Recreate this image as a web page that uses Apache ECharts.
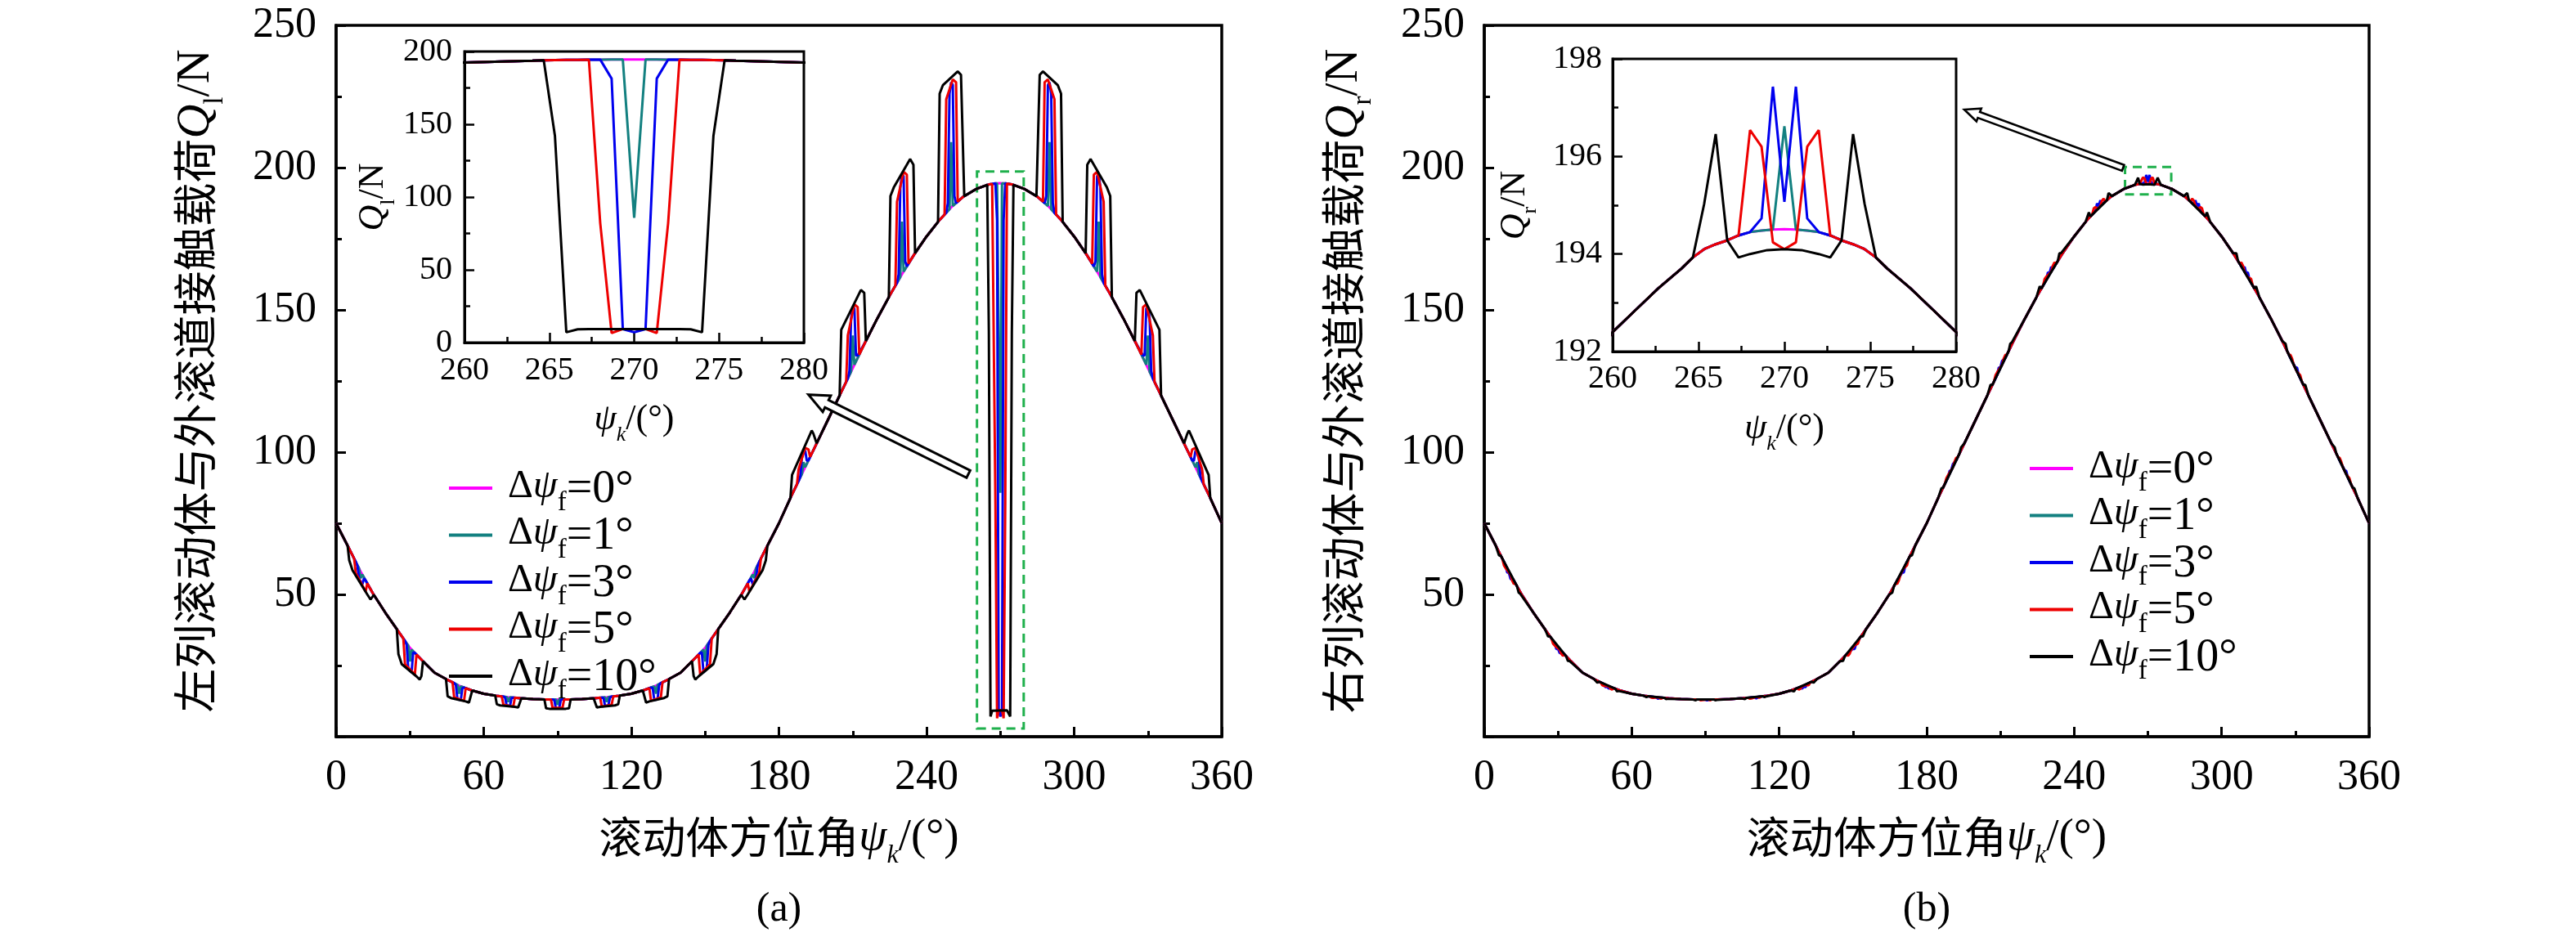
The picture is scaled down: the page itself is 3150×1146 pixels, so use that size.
<!DOCTYPE html>
<html><head><meta charset="utf-8">
<script src="https://cdn.jsdelivr.net/npm/echarts@6/dist/echarts.min.js"></script>
<style>html,body{margin:0;padding:0;background:#fff}#c{width:3150px;height:1146px}</style>
</head><body><div id="c"></div>
<script>
// ---------------- DATA ----------------
const seriesNames = ['Δψf=0°', 'Δψf=1°', 'Δψf=3°', 'Δψf=5°', 'Δψf=10°'];
const seriesColors = ['#ff00ff', '#138080', '#0000ee', '#ee0000', '#000000'];

// base load curve (Δψf = 0°)
const psiBase = [0,5,10,15,20,25,30,35,40,45,50,55,60,65,70,75,80,85,90,95,100,105,110,115,120,125,130,135,140,145,150,155,160,165,170,175,180,185,190,195,200,205,210,215,220,225,230,235,240,245,250,255,260,261.33,262.67,264,264.67,265.33,266,266.67,267.33,268,268.67,269.33,270,270.67,271.33,272,272.67,273.33,274,274.67,275.33,276,277.33,278.67,280,285,290,295,300,305,310,315,320,325,330,335,340,345,350,355,360];
const qBase = [75.0,66.6,58.0,50.3,43.6,37.4,31.2,26.8,22.5,20.1,17.9,16.3,15.1,14.4,13.9,13.5,13.2,13.1,13.1,13.1,13.2,13.5,13.9,14.4,15.1,16.3,17.9,20.1,22.5,26.8,31.2,37.4,43.6,50.3,58.0,66.6,75.0,84.5,93.5,102.5,111.5,120.5,129.5,138.5,147.0,155.0,162.5,169.5,175.8,181.3,186.0,189.8,192.4,192.85,193.3,193.7,193.93,194.1,194.2,194.28,194.38,194.45,194.48,194.5,194.51,194.5,194.48,194.45,194.38,194.28,194.2,194.1,193.93,193.7,193.3,192.85,192.4,189.8,186.0,181.3,175.8,169.5,162.5,155.0,147.0,138.5,129.5,120.5,111.5,102.5,93.5,84.5,75.0];

// ---- left row (a): deviations around each rolling element, [psi, Q] vertices ----
const leftTeal = [
  [[9.33,59.15],[10,55.7],[10.67,56.97]],
  [[29.33,32.03],[30,26.4],[30.67,30.61]],
  [[49.33,18.19],[50,15.1],[50.67,17.69]],
  [[69.33,13.97],[70,12.2],[70.67,13.85]],
  [[89.33,13.1],[90,11.2],[90.67,13.1]],
  [[109.33,13.85],[110,12.2],[110.67,13.97]],
  [[129.33,17.69],[130,15.1],[130.67,18.19]],
  [[149.33,30.61],[150,26.4],[150.67,32.03]],
  [[169.33,56.97],[170,55.7],[170.67,59.15]],
  [[189.33,92.3],[190,96.5],[190.67,94.7]],
  [[209.33,128.3],[210,141],[210.67,130.7]],
  [[229.33,161.5],[230,181],[230.67,163.44]],
  [[249.33,185.37],[250,209],[250.67,186.51]],
  [[269.33,194.5],[270,85.7],[270.67,194.5]],
  [[289.33,186.51],[290,209],[290.67,185.37]],
  [[309.33,163.44],[310,181],[310.67,161.5]],
  [[329.33,130.7],[330,141],[330.67,128.3]],
  [[349.33,94.7],[350,96.5],[350.67,92.3]]
];
const leftBlue = [
  [[8,61.44],[8.67,60.0],[9.33,55.5],[10,54.5],[10.67,53.6],[11.33,55.6],[12,54.92]],
  [[28,33.68],[28.67,32.3],[29.33,24],[30,23.2],[30.67,22.6],[31.33,29.6],[32,29.44]],
  [[48,18.84],[48.67,18.2],[49.33,13.2],[50,13.0],[50.67,12.9],[51.33,17.1],[52,17.26]],
  [[68,14.1],[68.67,13.8],[69.33,11.0],[70,10.9],[70.67,10.8],[71.33,13.6],[72,13.74]],
  [[88,13.1],[88.67,12.9],[89.33,10.0],[90,9.9],[90.67,10.0],[91.33,12.9],[92,13.1]],
  [[108,13.74],[108.67,13.6],[109.33,10.8],[110,10.9],[110.67,11.0],[111.33,13.8],[112,14.1]],
  [[128,17.26],[128.67,17.1],[129.33,12.9],[130,13.0],[130.67,13.2],[131.33,18.2],[132,18.84]],
  [[148,29.44],[148.67,29.6],[149.33,22.6],[150,23.2],[150.67,24],[151.33,32.3],[152,33.68]],
  [[168,54.92],[168.67,55.6],[169.33,53.6],[170,54.5],[170.67,55.5],[171.33,60.0],[172,61.44]],
  [[188,89.9],[188.67,91.5],[189.33,98],[190,100.5],[190.67,100.5],[191.33,97],[192,97.1]],
  [[208,125.9],[208.67,128.5],[209.33,147],[210,151],[210.67,150.5],[211.33,134],[212,134.0]],
  [[228,159.5],[228.67,162.5],[229.33,193],[230,197.5],[230.67,197],[231.33,167],[232,165.3]],
  [[248,184.1],[248.67,187.5],[249.33,226],[250,230],[250.67,229],[251.33,190],[252,187.5]],
  [[268,194.45],[268.67,181.4],[269.33,9.3],[270,7.1],[270.67,9.3],[271.33,181.4],[272,194.45]],
  [[288,187.5],[288.67,190],[289.33,229],[290,230],[290.67,226],[291.33,187.5],[292,184.1]],
  [[308,165.3],[308.67,167],[309.33,197],[310,197.5],[310.67,193],[311.33,162.5],[312,159.5]],
  [[328,134.0],[328.67,134],[329.33,150.5],[330,151],[330.67,147],[331.33,128.5],[332,125.9]],
  [[348,97.1],[348.67,97],[349.33,100.5],[350,100.5],[350.67,98],[351.33,91.5],[352,89.9]]
];
const leftRed = [
  [[7.33,62.6],[8,57.5],[12,51],[12.67,53.9]],
  [[27.33,34.51],[28,25.5],[32,21.8],[32.67,28.85]],
  [[47.33,19.12],[48,13.8],[52,12.6],[52.67,17.05]],
  [[67.33,14.17],[68,11.2],[72,10.6],[72.67,13.69]],
  [[87.33,13.1],[88,10.1],[92,10.1],[92.67,13.1]],
  [[107.33,13.69],[108,10.6],[112,11.2],[112.67,14.17]],
  [[127.33,17.05],[128,12.6],[132,13.8],[132.67,19.12]],
  [[147.33,28.85],[148,21.8],[152,25.5],[152.67,34.51]],
  [[167.33,53.9],[168,51],[172,57.5],[172.67,62.6]],
  [[187.33,88.7],[188,94],[190.67,101.5],[192,101],[192.67,98.3]],
  [[207.33,124.7],[208,141],[210.67,152],[212,151],[212.67,134.3]],
  [[227.33,158.5],[228,188],[230.67,198.5],[232,197.5],[232.67,166.24]],
  [[247.33,183.5],[248,224],[250.67,231],[252,230],[252.67,188.03]],
  [[267.33,194.38],[268,82],[268.67,6.5],[269.33,9.3],[270.67,9.3],[271.33,6.5],[272,82],[272.67,194.38]],
  [[287.33,188.03],[288,230],[289.33,231],[292,224],[292.67,183.5]],
  [[307.33,166.24],[308,197.5],[309.33,198.5],[312,188],[312.67,158.5]],
  [[327.33,134.3],[328,151],[329.33,152],[332,141],[332.67,124.7]],
  [[347.33,98.3],[348,101],[349.33,101.5],[352,94],[352.67,88.7]]
];
const leftBlack = [
  [[4.67,67.15],[5.33,62],[6.67,58.5],[12.67,50],[14,48.2],[15.33,49.86]],
  [[24.67,37.8],[25.33,29],[26.67,25.5],[32.67,21.2],[34,20.1],[34.67,21.3],[35.33,26.5]],
  [[44.67,20.26],[45.33,14.2],[46.67,13.6],[52.67,12.4],[54,12],[55.33,16.22]],
  [[64.67,14.45],[65.33,11.4],[66.67,11],[72.67,10.5],[74,10.3],[75.33,13.48]],
  [[84.67,13.1],[85.33,10.0],[86.67,9.8],[93.33,9.8],[94.67,10.0],[95.33,13.1]],
  [[104.67,13.48],[106,10.3],[107.33,10.5],[113.33,11],[114.67,11.4],[115.33,14.45]],
  [[124.67,16.22],[126,12],[127.33,12.4],[133.33,13.6],[134.67,14.2],[135.33,20.26]],
  [[144.67,26.5],[145.33,21.3],[146,20.1],[147.33,21.2],[153.33,25.5],[154.67,29],[155.33,37.8]],
  [[164.67,49.86],[166,48.2],[167.33,50],[173.33,58.5],[174.67,62],[175.33,67.15]],
  [[184.67,83.87],[185.33,92],[193.33,107.6],[194,106.5],[195.33,103.1]],
  [[204.67,119.9],[205.33,143],[213.33,157],[214.67,156],[215.33,139.06]],
  [[224.67,154.47],[225.33,190],[226.67,193],[233.33,203],[234.67,201],[235.33,169.92]],
  [[244.67,180.94],[245.33,226],[246.67,229],[252.67,233.8],[254,232.6],[255.33,189.97]],
  [[264.67,193.93],[265.33,142],[266,7.1],[266.67,9.1],[267.33,9.3],[272.67,9.3],[273.33,9.1],[274,7.1],[274.67,142],[275.33,193.93]],
  [[284.67,189.97],[286,232.6],[287.33,233.8],[293.33,229],[294.67,226],[295.33,180.94]],
  [[304.67,169.92],[305.33,201],[306.67,203],[313.33,193],[314.67,190],[315.33,154.47]],
  [[324.67,139.06],[325.33,156],[326.67,157],[334.67,143],[335.33,119.9]],
  [[344.67,103.1],[346,106.5],[346.67,107.6],[354.67,92],[355.33,83.87]]
];

// ---- right row (b): element at 270°, absolute [psi, Q] ----
const rightTeal270 = [[269.33,194.5],[270,196.62],[270.67,194.5]];
const rightBlue270 = [[268,194.45],[268.67,194.73],[269.33,197.43],[270,195.07],[270.67,197.43],[271.33,194.73],[272,194.45]];
const rightRed270 = [[267.33,194.38],[268,196.54],[268.67,196.2],[269.33,194.24],[270,194.1],[270.67,194.24],[271.33,196.2],[272,196.54],[272.67,194.38]];
const rightBlack270 = [[264.67,193.93],[265.33,195.03],[266,196.46],[266.67,194.28],[267.33,193.93],[268,194.0],[269,194.08],[270,194.1],[271,194.08],[272,194.0],[272.67,193.93],[273.33,194.28],[274,196.46],[274.67,195.03],[275.33,193.93]];

// ---- right row (b): small deviations at the other elements (offset from the base curve) ----
const rightBlackDpsi = [-5.33,-4.67,-4,-3.33,3.33,4,4.67,5.33];
const rightBlackDq = {
  10:[0,-0.6,-1.2,0,0,-1.2,-0.6,0], 30:[0,-0.5,-1.0,0,0,-1.0,-0.5,0], 50:[0,-0.35,-0.7,0,0,-0.7,-0.35,0],
  70:[0,-0.2,-0.4,0,0,-0.4,-0.2,0], 90:[0,-0.15,-0.3,0,0,-0.3,-0.15,0], 110:[0,-0.2,-0.4,0,0,-0.4,-0.2,0],
  130:[0,-0.35,-0.7,0,0,-0.7,-0.35,0], 150:[0,-0.5,-1.0,0,0,-1.0,-0.5,0], 170:[0,-0.6,-1.2,0,0,-1.2,-0.6,0],
  190:[0,0.5,1.0,0,0,1.0,0.5,0], 210:[0,0.7,1.4,0,0,1.4,0.7,0], 230:[0,0.9,1.8,0,0,1.8,0.9,0],
  250:[0,1.0,2.0,0,0,2.0,1.0,0], 290:[0,1.0,2.0,0,0,2.0,1.0,0], 310:[0,0.9,1.8,0,0,1.8,0.9,0],
  330:[0,0.7,1.4,0,0,1.4,0.7,0], 350:[0,0.5,1.0,0,0,1.0,0.5,0]
};
const rightRedDpsi = [-2.67,-2,-1.33,-0.67,0.67,1.33,2,2.67];
const rightRedDq = {
  10:[0,-1.2,-1.0,0,0,-1.0,-1.2,0], 30:[0,-1.0,-0.85,0,0,-0.85,-1.0,0], 50:[0,-0.7,-0.6,0,0,-0.6,-0.7,0],
  70:[0,-0.4,-0.35,0,0,-0.35,-0.4,0], 90:[0,-0.3,-0.25,0,0,-0.25,-0.3,0], 110:[0,-0.4,-0.35,0,0,-0.35,-0.4,0],
  130:[0,-0.7,-0.6,0,0,-0.6,-0.7,0], 150:[0,-1.0,-0.85,0,0,-0.85,-1.0,0], 170:[0,-1.2,-1.0,0,0,-1.0,-1.2,0],
  190:[0,0.9,0.75,0,0,0.75,0.9,0], 210:[0,1.1,0.95,0,0,0.95,1.1,0], 230:[0,1.4,1.2,0,0,1.2,1.4,0],
  250:[0,1.6,1.4,0,0,1.4,1.6,0], 290:[0,1.6,1.4,0,0,1.4,1.6,0], 310:[0,1.4,1.2,0,0,1.2,1.4,0],
  330:[0,1.1,0.95,0,0,0.95,1.1,0], 350:[0,0.9,0.75,0,0,0.75,0.9,0]
};
const rightBlueDpsi = [-2,-1.33,-0.67,0,0.67,1.33,2];
const rightBlueDq = {
  10:[0,-0.1,-1.45,-0.35,-1.45,-0.1,0], 30:[0,-0.1,-1.2,-0.3,-1.2,-0.1,0], 50:[0,-0.05,-0.85,-0.2,-0.85,-0.05,0],
  70:[0,0,-0.5,-0.1,-0.5,0,0], 90:[0,0,-0.35,-0.1,-0.35,0,0], 110:[0,0,-0.5,-0.1,-0.5,0,0],
  130:[0,-0.05,-0.85,-0.2,-0.85,-0.05,0], 150:[0,-0.1,-1.2,-0.3,-1.2,-0.1,0], 170:[0,-0.1,-1.45,-0.35,-1.45,-0.1,0],
  190:[0,0.1,1.1,0.25,1.1,0.1,0], 210:[0,0.1,1.4,0.35,1.4,0.1,0], 230:[0,0.15,1.7,0.4,1.7,0.15,0],
  250:[0,0.15,2.0,0.5,2.0,0.15,0], 290:[0,0.15,2.0,0.5,2.0,0.15,0], 310:[0,0.15,1.7,0.4,1.7,0.15,0],
  330:[0,0.1,1.4,0.35,1.4,0.1,0], 350:[0,0.1,1.1,0.25,1.1,0.1,0]
};

// axis ticks
const mainXTicks = {min: 0, max: 360, interval: 60};
const mainYTicks = {min: 0, max: 250, interval: 50};
const insetXTicks = {min: 260, max: 280, interval: 5};
const insetLYTicks = {min: 0, max: 200, interval: 50};
const insetRYTicks = {min: 192, max: 198, interval: 2};

// ---------------- BUILD ----------------
function baseAt(x) {
  for (let i = 0; i < psiBase.length - 1; i++) {
    if (x >= psiBase[i] && x <= psiBase[i + 1]) {
      const t = (x - psiBase[i]) / (psiBase[i + 1] - psiBase[i]);
      return qBase[i] + t * (qBase[i + 1] - qBase[i]);
    }
  }
  return qBase[qBase.length - 1];
}
function devGroups(dpsi, dq) {
  return Object.keys(dq).map(k => dpsi.map((d, j) => {
    const x = +(Number(k) + d).toFixed(2);
    return [x, +(baseAt(x) + dq[k][j]).toFixed(3)];
  }));
}
function buildLine(groups) {
  const inside = x => groups.some(g => x >= g[0][0] && x <= g[g.length - 1][0]);
  const pts = [];
  psiBase.forEach((x, i) => { if (!inside(x)) pts.push([x, qBase[i]]); });
  groups.forEach(g => g.forEach(p => pts.push([p[0], p[1]])));
  pts.sort((a, b) => a[0] - b[0]);
  return pts;
}
const leftData = [buildLine([]), buildLine(leftTeal), buildLine(leftBlue), buildLine(leftRed), buildLine(leftBlack)];
const rightData = [
  buildLine([]),
  buildLine([rightTeal270]),
  buildLine(devGroups(rightBlueDpsi, rightBlueDq).concat([rightBlue270])),
  buildLine(devGroups(rightRedDpsi, rightRedDq).concat([rightRed270])),
  buildLine(devGroups(rightBlackDpsi, rightBlackDq).concat([rightBlack270]))
];

// ---------------- STYLE ----------------
const SERIF = 'Liberation Serif';
const CJK = 'Noto Sans CJK SC';

function titleRich(cjkSize, latSize, subSize, lh, subPad, subItalic) {
  return {
    c: {fontFamily: CJK, fontSize: cjkSize, color: '#000', lineHeight: lh, verticalAlign: 'top'},
    i: {fontFamily: SERIF, fontSize: latSize, fontStyle: 'italic', color: '#000', lineHeight: lh, verticalAlign: 'top'},
    s: {fontFamily: SERIF, fontSize: subSize, fontStyle: subItalic ? 'italic' : 'normal', color: '#000', lineHeight: subSize, padding: [subPad, 0, 0, 0], verticalAlign: 'top'},
    r: {fontFamily: SERIF, fontSize: latSize, color: '#000', lineHeight: lh, verticalAlign: 'top'}
  };
}

function valueAxis(gi, ticks, opts) {
  return Object.assign({
    gridIndex: gi, type: 'value', min: ticks.min, max: ticks.max, interval: ticks.interval,
    axisLine: {show: true, onZero: false, lineStyle: {color: '#000', width: opts.lw}},
    axisTick: {show: true, inside: true, length: 12, lineStyle: {color: '#000', width: opts.lw - 0.5}},
    minorTick: {show: true, splitNumber: 2, length: 7, lineStyle: {color: '#000', width: opts.lw - 0.5}},
    axisLabel: {fontFamily: SERIF, fontSize: opts.fs, color: '#000', margin: opts.margin, showMinLabel: opts.showMin !== false},
    splitLine: {show: false}, minorSplitLine: {show: false}
  }, opts.extra || {});
}

const G = {
  L: {left: 411, top: 31, width: 1083, height: 870},
  LI: {left: 568, top: 63, width: 415, height: 356},
  R: {left: 1815, top: 31, width: 1082, height: 870},
  RI: {left: 1972, top: 72, width: 420, height: 358}
};
function grid(g, bw) {
  return Object.assign({show: true, borderColor: '#000', borderWidth: bw, backgroundColor: '#fff', containLabel: false, outerBoundsMode: 'none'}, g);
}

const xMainTitle = '{c|滚动体方位角}{i|ψ}{s|k}{r|/(°)}';
const yLTitle = '{c|左列滚动体与外滚道接触载荷}{i|Q}{s|l}{r|/N}';
const yRTitle = '{c|右列滚动体与外滚道接触载荷}{i|Q}{s|r}{r|/N}';
const xInsetTitle = '{i|ψ}{s|k}{r|/(°)}';
const yLInsetTitle = '{i|Q}{s|l}{r|/N}';
const yRInsetTitle = '{i|Q}{s|r}{r|/N}';

const mainXRich = titleRich(53, 55, 32, 58, 34, true);
const mainYRich = titleRich(54, 58, 33, 60, 36, false);
const insetXRich = titleRich(40, 44, 26, 46, 28, true);
const insetYRich = titleRich(40, 44, 26, 46, 28, false);

const xAxes = [
  valueAxis(0, mainXTicks, {lw: 3.5, fs: 52, margin: 24, extra: {name: xMainTitle, nameLocation: 'middle', nameGap: 96, nameTextStyle: {rich: mainXRich}}}),
  valueAxis(1, insetXTicks, {lw: 3, fs: 40, margin: 14, extra: {name: xInsetTitle, nameLocation: 'middle', nameGap: 72, nameTextStyle: {rich: insetXRich}}}),
  valueAxis(2, mainXTicks, {lw: 3.5, fs: 52, margin: 24, extra: {name: xMainTitle, nameLocation: 'middle', nameGap: 96, nameTextStyle: {rich: mainXRich}}}),
  valueAxis(3, insetXTicks, {lw: 3, fs: 40, margin: 13, extra: {name: xInsetTitle, nameLocation: 'middle', nameGap: 72, nameTextStyle: {rich: insetXRich}}})
];
const yAxes = [
  valueAxis(0, mainYTicks, {lw: 3.5, fs: 52, margin: 24, showMin: false, extra: {name: yLTitle, nameLocation: 'middle', nameRotate: 90, nameGap: 140, nameTextStyle: {rich: mainYRich}}}),
  valueAxis(1, insetLYTicks, {lw: 3, fs: 40, margin: 15, extra: {name: yLInsetTitle, nameLocation: 'middle', nameRotate: 90, nameGap: 88, nameTextStyle: {rich: insetYRich}}}),
  valueAxis(2, mainYTicks, {lw: 3.5, fs: 52, margin: 24, showMin: false, extra: {name: yRTitle, nameLocation: 'middle', nameRotate: 90, nameGap: 140, nameTextStyle: {rich: mainYRich}}}),
  valueAxis(3, insetRYTicks, {lw: 3, fs: 40, margin: 13, extra: {name: yRInsetTitle, nameLocation: 'middle', nameRotate: 90, nameGap: 96, nameTextStyle: {rich: insetYRich}}})
];

const greenBox = (a, b) => ({
  silent: true,
  itemStyle: {color: 'rgba(0,0,0,0)', borderColor: '#1fb04c', borderWidth: 3, borderType: [11, 7]},
  data: [[{coord: a}, {coord: b}]]
});

const series = [];
function addPanel(data, mainIdx, insetIdx, box) {
  data.forEach((d, k) => {
    const base = {type: 'line', name: seriesNames[k], data: d, showSymbol: false, symbol: 'none',
      lineStyle: {color: seriesColors[k], width: 3}, itemStyle: {color: seriesColors[k]},
      clip: true, silent: true, animation: false, z: 2 + k};
    const m = Object.assign({}, base, {xAxisIndex: mainIdx, yAxisIndex: mainIdx});
    if (k === 0) m.markArea = box;
    series.push(m);
    series.push(Object.assign({}, base, {xAxisIndex: insetIdx, yAxisIndex: insetIdx, z: 12 + k}));
  });
}
addPanel(leftData, 0, 1, greenBox([260.5, 2.9], [279.5, 198.6]));
addPanel(rightData, 2, 3, greenBox([260.7, 190.6], [279.5, 200.2]));

const legendRich = {
  d: {fontFamily: SERIF, fontSize: 48, color: '#000', lineHeight: 52, verticalAlign: 'top', padding: [0, 0, 0, 14]},
  p: {fontFamily: SERIF, fontSize: 48, fontStyle: 'italic', color: '#000', lineHeight: 52, verticalAlign: 'top'},
  s: {fontFamily: SERIF, fontSize: 33, color: '#000', lineHeight: 32, padding: [28, 0, 0, 0], verticalAlign: 'top'},
  n: {fontFamily: SERIF, fontSize: 56, color: '#000', lineHeight: 52, verticalAlign: 'top'}
};
const legendFmt = name => '{d|Δ}{p|ψ}{s|f}{n|=' + name.split('=')[1] + '}';
function legend(left, top) {
  return {left, top, orient: 'vertical', icon: 'rect', itemWidth: 53, itemHeight: 4, itemGap: -3.5,
    data: seriesNames, formatter: legendFmt, selectedMode: false,
    textStyle: {rich: legendRich, color: '#000', fontFamily: SERIF}, padding: 0};
}

const capStyle = t => ({text: t, fontSize: 50, fontFamily: SERIF, fill: '#000', align: 'center', verticalAlign: 'middle'});
const option = {
  backgroundColor: '#fff',
  animation: false,
  textStyle: {fontFamily: SERIF},
  grid: [grid(G.L, 3.5), grid(G.LI, 3), grid(G.R, 3.5), grid(G.RI, 3)],
  xAxis: xAxes,
  yAxis: yAxes,
  legend: [legend(549, 571), legend(2482, 547)],
  series: series,
  graphic: [
    {type: 'text', x: G.L.left + G.L.width / 2, y: 1113, style: capStyle('(a)')},
    {type: 'text', x: G.R.left + G.R.width / 2, y: 1113, style: capStyle('(b)')}
  ]
};

const chart = echarts.init(document.getElementById('c'), null, {renderer: 'canvas', width: 3150, height: 1146});
chart.setOption(option);

// hollow arrows from the dashed boxes to the insets
function arrowPts(T, P, hw, hl, hh) {
  const dx = P[0] - T[0], dy = P[1] - T[1], L = Math.hypot(dx, dy);
  const ux = dx / L, uy = dy / L, nx = -uy, ny = ux;
  const H = [P[0] - ux * hl, P[1] - uy * hl];
  return [[T[0] + nx * hw, T[1] + ny * hw], [H[0] + nx * hw, H[1] + ny * hw], [H[0] + nx * hh, H[1] + ny * hh], P,
          [H[0] - nx * hh, H[1] - ny * hh], [H[0] - nx * hw, H[1] - ny * hw], [T[0] - nx * hw, T[1] - ny * hw]];
}
const aLT = chart.convertToPixel({gridIndex: 0}, [257.0, 92.3]);
const aLP = chart.convertToPixel({gridIndex: 0}, [192.0, 120.2]);
const aRT = chart.convertToPixel({gridIndex: 2}, [259.9, 199.9]);
const aRP = chart.convertToPixel({gridIndex: 2}, [195.3, 220.4]);
chart.setOption({graphic: option.graphic.concat([
  {type: 'polygon', z: 100, shape: {points: arrowPts(aLT, aLP, 5, 25, 11)}, style: {fill: '#fff', stroke: '#000', lineWidth: 3}},
  {type: 'polygon', z: 100, shape: {points: arrowPts(aRT, aRP, 3.8, 19, 8.5)}, style: {fill: '#fff', stroke: '#000', lineWidth: 2.6}}
])});
</script>
</body></html>
